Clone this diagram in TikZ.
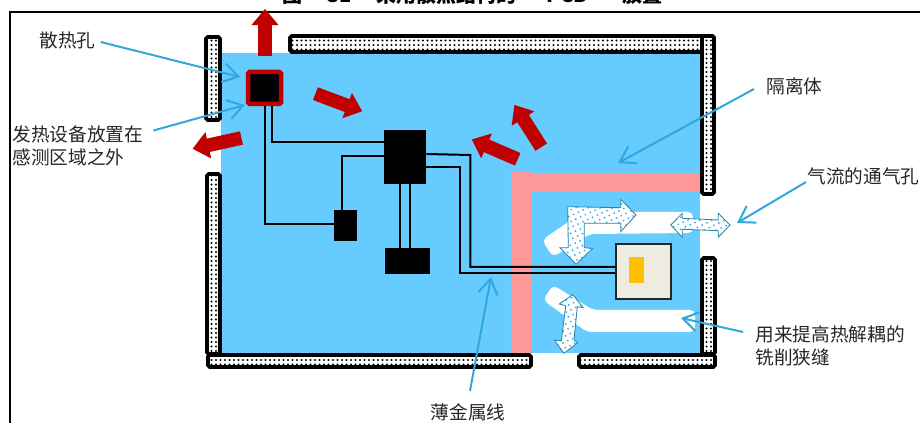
\documentclass[tikz,border=0pt]{standalone}
\usepackage{fontspec}
\setmainfont{Noto Sans CJK SC}
\usepackage{xcolor}
\usepackage{tikz}
\usetikzlibrary{patterns.meta,arrows.meta,shapes.arrows,calc}
\definecolor{boardblue}{HTML}{66CCFF}
\definecolor{isopink}{HTML}{FF9999}
\definecolor{heatred}{HTML}{C00000}
\definecolor{leadblue}{HTML}{31A8DA}
\definecolor{chipgray}{HTML}{EEECE1}
\definecolor{dieorange}{HTML}{FFC000}
\tikzset{
  wall/.style={draw=black,line width=2.2pt,rounded corners=1pt,preaction={fill=white},
    pattern={Dots[distance=2.7pt,radius=0.62pt]},pattern color=black},
  slot/.style={fill=white,rounded corners=3pt},
  block/.style={fill=black,inner sep=0pt},
  wire/.style={draw=black,line width=1.2pt},
  heatflow/.style={shape=single arrow,fill=heatred,inner xsep=0pt,inner ysep=3.9pt,
    minimum height=30pt,single arrow head extend=4pt,single arrow tip angle=80},
  airflow/.style={draw=leadblue!80!black,line width=0.5pt,preaction={fill=white},
    pattern={Dots[distance=3.2pt,angle=25,radius=0.6pt]},pattern color=leadblue},
  leader/.style={draw=leadblue,line width=1.2pt,-{Straight Barb[length=9pt,width=11.5pt,line width=1.2pt]}},
  callout/.style={font=\fontsize{11.2}{13.8}\selectfont,align=left,inner sep=0pt,text=black!85}
}
\begin{document}
\begin{tikzpicture}[>=latex,x=0.6pt,y=-0.6pt]
\useasboundingbox (0,0) rectangle (920,423);
% ---- frame and cut title ----
\node[anchor=base west,font=\fontsize{12}{15}\selectfont\bfseries,inner sep=0pt] (title) at (282,2.5) {图\hspace{15pt}31\hspace{15pt}采用散热结构的\hspace{18pt}PCB\hspace{21pt}放置};
\draw[line width=1.3pt] (10,423)--(10,12)--(920,12);
% ---- board ----
\fill[boardblue] (221,53) rectangle (700,353);
\fill[isopink] (511,172) rectangle (531,353);
\fill[isopink] (531,173) rectangle (700,192);
\fill[slot] (542,240)--(583,212)--(693,212)--(693,233)--(590,234)--(553,257)--cycle;
\fill[slot] (553,285)--(593,310)--(695,310)--(695,332)--(587,332)--(543,300)--cycle;
% ---- walls ----
\draw[wall] (206,37) rectangle (220,120);
\draw[wall] (207,174) rectangle (220,354);
\draw[wall] (290,36) rectangle (714,52);
\draw[wall] (702,36) rectangle (714,194);
\draw[wall] (702,258) rectangle (715,354);
\draw[wall] (208,355) rectangle (531,367);
\draw[wall] (579,355) rectangle (715,367);
% ---- parts ----
\node[block,draw=heatred,line width=2.7pt,rounded corners=1pt,minimum width=19.8pt,minimum height=19.2pt] (heat) at (264.5,88) {};
\node[block,minimum width=25.2pt,minimum height=32.4pt] (ctrl) at (405,157) {};
\node[block,minimum width=27pt,minimum height=15.6pt] (mem) at (407.5,261) {};
\node[block,minimum width=13.8pt,minimum height=18.6pt] (sense) at (345.5,225.5) {};
\node[draw=black!85,fill=chipgray,line width=0.9pt,inner sep=0pt,minimum size=33pt] (chip) at (643.5,271.5) {};
\node[fill=dieorange,inner sep=0pt,minimum width=9pt,minimum height=15.6pt] (die) at (636.5,270) {};
% ---- wires ----
\draw[wire] (heat.south) |- ($(sense.west)+(0,-1.5)$);
\draw[wire] ($(heat.south)+(7.5,0)$) |- ($(ctrl.west)+(0,-15)$);
\draw[wire] ($(sense.north)+(-3.5,0)$) |- ($(ctrl.west)+(0,-1)$);
\draw[wire] ($(ctrl.south)+(-5,0)$) -- ($(mem.north)+(-7.5,0)$);
\draw[wire] ($(ctrl.south)+(5,0)$) -- ($(mem.north)+(2.5,0)$);
\draw[wire] ($(ctrl.east)+(0,-3)$) -- ++(44,1) |- ($(chip.west)+(0,-4.5)$);
\draw[wire] ($(ctrl.east)+(0,10)$) -- ++(34,0) |- ($(chip.west)+(0,1.5)$);
% ---- heat arrows ----
\node[heatflow,minimum height=28.2pt,rotate=90] (up) at (265,36.5) {};
\node[heatflow,rotate=-20.6] (right) at (335,101) {};
\node[heatflow,rotate=192.4] (left) at (221,142.5) {};
\node[heatflow,rotate=156.6] (back) at (498.5,151) {};
\node[heatflow,rotate=122.4] (top) at (530,129.5) {};
% ---- air arrows ----
\draw[airflow] (567.7,206.7)--(620.7,207.7)--(620.7,199.3)--(636,215)--(620.7,231.7)--(620.7,223.3)--(584.3,223.3)--(584.3,247.7)--(592.7,248.3)--(576,264.3)--(560,247.7)--(568.3,247.7)--cycle;
\draw[airflow] (670.7,225)--(682.3,213.3)--(682.3,218.3)--(718.3,220)--(718.3,213.3)--(730,225)--(718.3,237.3)--(718.3,230.7)--(682.3,229.3)--(682.3,237.3)--cycle;
\draw[airflow] (572.7,294.7)--(583.3,307.7)--(577.3,306.7)--(574,340)--(577.7,342.7)--(564,353.3)--(554.3,340)--(561.3,341)--(565.7,305.7)--(559.3,304)--cycle;
% ---- labels ----
\node[callout,anchor=west] (lblhole) at (39,40) {散热孔};
\node[callout,anchor=west] (lbldev) at (12,146) {发热设备放置在\\感测区域之外};
\node[callout,anchor=west] (lbliso) at (766,86) {隔离体};
\node[callout,anchor=west] (lblvent) at (807,176) {气流的通气孔};
\node[callout,anchor=west] (lblslot) at (755,346) {用来提高热解耦的\\铣削狭缝};
\node[callout] (lblwire) at (468,412) {薄金属线};
% ---- leaders ----
\coordinate (tiphole) at (240,77);
\coordinate (tipdev) at (245,105);
\coordinate (tipiso) at (618,163);
\coordinate (tipvent) at (737,223);
\coordinate (tipslot) at (681,318);
\coordinate (tipwire) at (491,277);
\draw[leader] ($(lblhole.east)+(5,2)$) -- (tiphole);
\draw[leader] ($(lbldev.north east)+(10,5)$) -- (tipdev);
\draw[leader] ($(lbliso.west)+(-12,3)$) -- (tipiso);
\draw[leader] ($(lblvent.west)+(-1,6)$) -- (tipvent);
\draw[leader] ($(lblslot.west)+(-12,-14)$) -- (tipslot);
\draw[leader] ($(lblwire.north)+(2,-12)$) -- (tipwire);
\end{tikzpicture}
\end{document}
